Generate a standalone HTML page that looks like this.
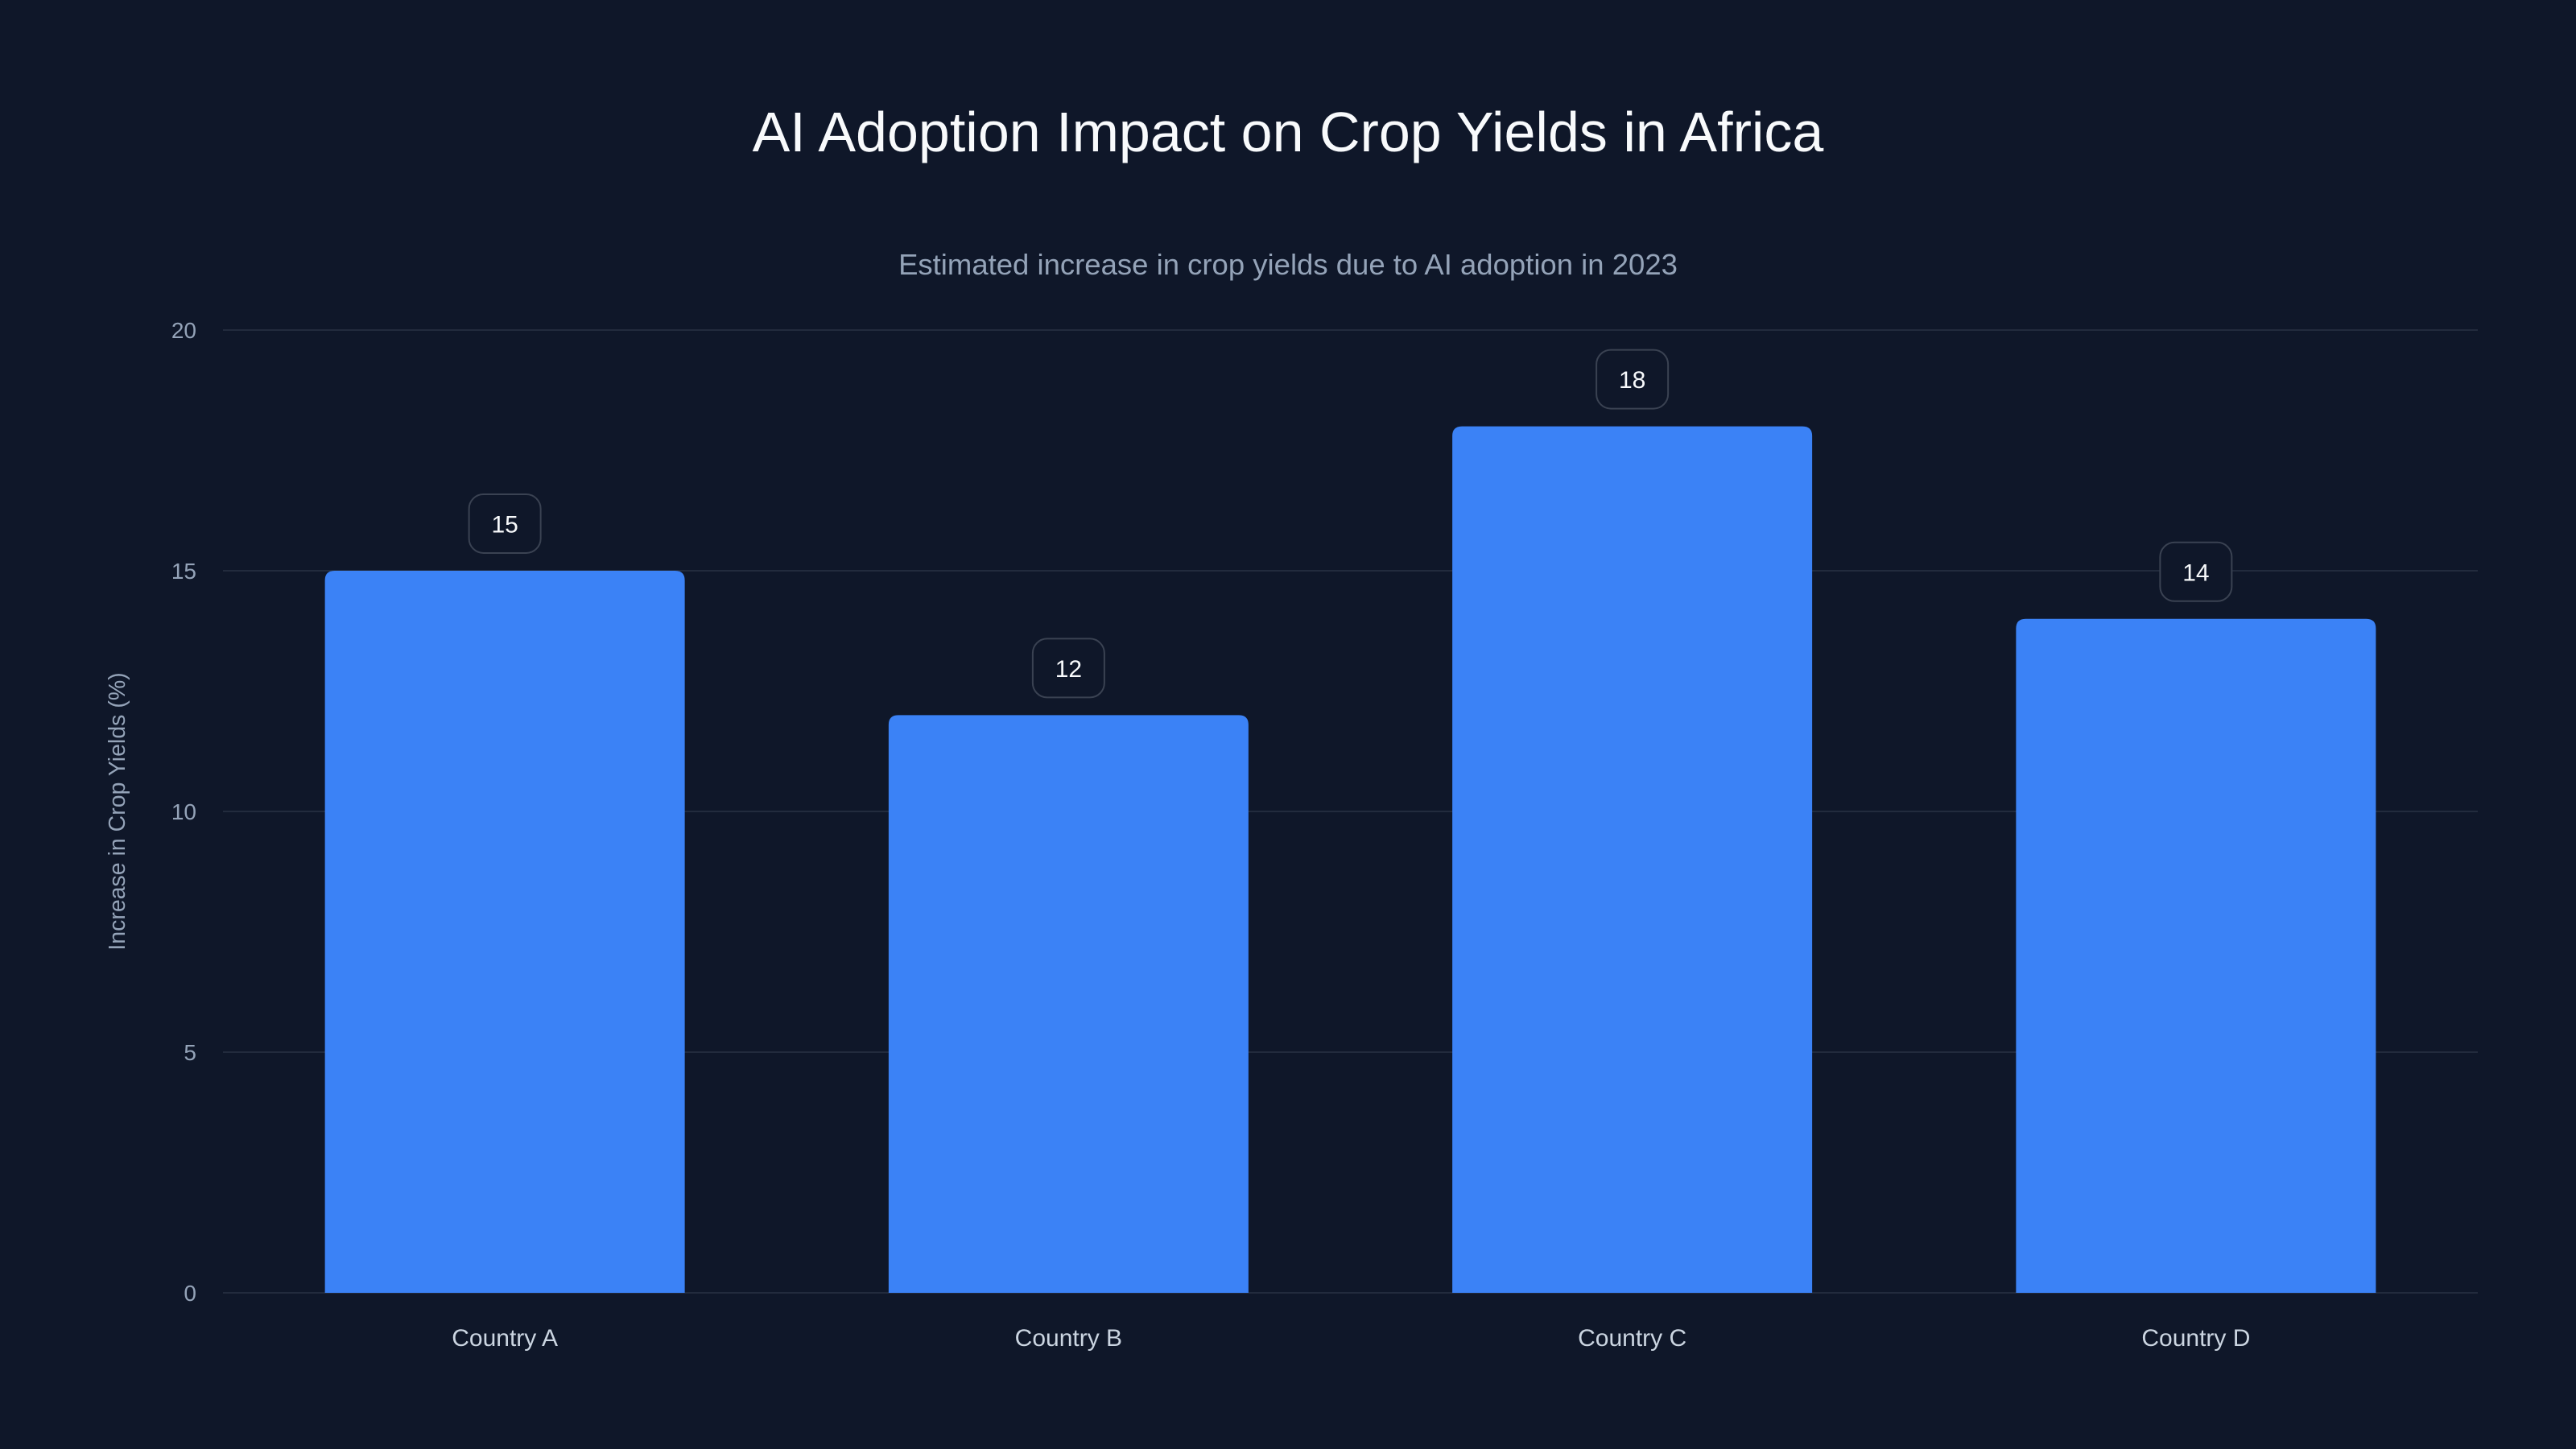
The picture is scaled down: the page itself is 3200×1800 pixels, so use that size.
<!DOCTYPE html>
<html><head><meta charset="utf-8"><style>
html,body{margin:0;padding:0;background:#0f1729;}
svg{display:block;font-family:"Liberation Sans",sans-serif;}
</style></head><body>
<svg id="chart" width="3200" height="1800" viewBox="0 0 3200 1800" xmlns="http://www.w3.org/2000/svg">
<rect width="3200" height="1800" fill="#0f1729"/>
<text x="1600" y="188" text-anchor="middle" font-size="70" fill="#f8fafc">AI Adoption Impact on Crop Yields in Africa</text>
<text x="1600" y="341" text-anchor="middle" font-size="36.5" fill="#94a3b8">Estimated increase in crop yields due to AI adoption in 2023</text>
<text transform="translate(155,1008) rotate(-90)" text-anchor="middle" font-size="28.5" fill="#94a3b8">Increase in Crop Yields (%)</text>
<g id="grid"></g><g id="bars"></g><g id="labels"></g>
</svg>
<script>
const categories = ["Country A","Country B","Country C","Country D"];
const values = [15,12,18,14];
const yTicks = [0,5,10,15,20];
const NS="http://www.w3.org/2000/svg";
const L=277,R=3078,T=410,B=1606,yMax=20;
const y=v=>B-(v/yMax)*(B-T);
const band=(R-L)/categories.length;
const bw=447;
const xc=i=>L+band*(i+0.5);
function mk(tag,attrs,parent){const e=document.createElementNS(NS,tag);for(const k in attrs)e.setAttribute(k,attrs[k]);parent.appendChild(e);return e;}
const grid=document.getElementById('grid'),bars=document.getElementById('bars'),labels=document.getElementById('labels');
yTicks.forEach(t=>{
  const ln=mk('line',{x1:L,x2:R,y1:y(t),y2:y(t),stroke:'#222b3d','stroke-width':2},grid);
  
  
  const tx=mk('text',{x:244,y:y(t)+10,'text-anchor':'end','font-size':28,fill:'#94a3b8'},grid);
  tx.textContent=t;
  
  
});
categories.forEach((c,i)=>{
  const top=y(values[i]),x0=xc(i)-bw/2,r=12;
  const d=`M${x0},${B}V${top+r}Q${x0},${top} ${x0+r},${top}H${x0+bw-r}Q${x0+bw},${top} ${x0+bw},${top+r}V${B}Z`;
  const p=mk('path',{d:d,fill:'#3b82f6'},bars);
  
  
  const bx=mk('rect',{x:xc(i)-44.5,y:top-22-73,width:89,height:73,rx:18,fill:'#0f1729',stroke:'#3a4252','stroke-width':2},labels);
  
  
  const vt=mk('text',{x:xc(i),y:top-22-36.5+11,'text-anchor':'middle','font-size':30,fill:'#f8fafc'},labels);
  vt.textContent=values[i];
  
  
  const ct=mk('text',{x:xc(i),y:1672,'text-anchor':'middle','font-size':30,fill:'#cbd5e1'},labels);
  ct.textContent=c;
  
  
});
</script>
</body></html>
